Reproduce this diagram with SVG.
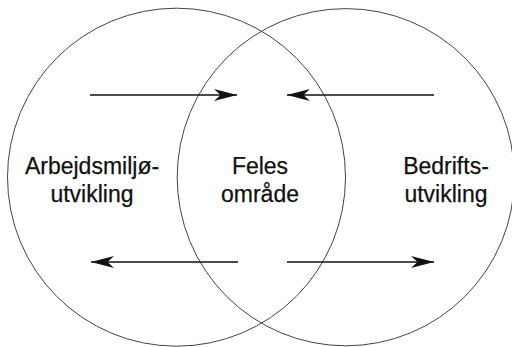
<svg xmlns="http://www.w3.org/2000/svg" width="512" height="347" viewBox="0 0 512 347">
  <style>
    .ring { fill: none; stroke: #444; stroke-width: 1; }
    .flow { fill: none; stroke: #111; stroke-width: 1.3; }
    .label { font-family: "Liberation Sans", Arial, sans-serif; font-size: 23px; fill: #111; stroke: #111; stroke-width: 0.25; text-anchor: middle; }
  </style>
  <defs>
    <marker id="head" viewBox="0 0 23 12" refX="23" refY="6" markerWidth="23" markerHeight="12" markerUnits="userSpaceOnUse" orient="auto">
      <path d="M23,6 L0,0 L6.5,6 L0,12 Z" fill="#111"/>
    </marker>
  </defs>

  <g id="circle-left"><circle class="ring" cx="176.5" cy="177.2" r="169"/></g>
  <g id="circle-right"><circle class="ring" cx="345.8" cy="177.2" r="168.6"/></g>

  <g id="connectors">
    <line class="flow" x1="90" y1="95" x2="237" y2="95" marker-end="url(#head)"/>
    <line class="flow" x1="434" y1="95" x2="287" y2="95" marker-end="url(#head)"/>
    <line class="flow" x1="238" y1="262" x2="91" y2="262" marker-end="url(#head)"/>
    <line class="flow" x1="287" y1="262" x2="434" y2="262" marker-end="url(#head)"/>
  </g>

  <g id="node-arbeidsmiljo">
    <text class="label" x="92" y="174">Arbejdsmiljø-</text>
    <text class="label" x="92" y="202">utvikling</text>
  </g>
  <g id="node-felles">
    <text class="label" x="260" y="174">Feles</text>
    <text class="label" x="260" y="202">område</text>
  </g>
  <g id="node-bedrift">
    <text class="label" x="446" y="174">Bedrifts-</text>
    <text class="label" x="446" y="202">utvikling</text>
  </g>
</svg>
